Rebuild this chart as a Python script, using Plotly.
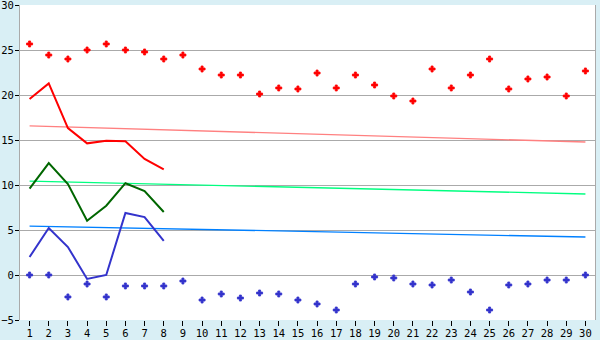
import plotly.graph_objects as go

days = list(range(1, 31))

red_points = [25.67, 24.44, 24.0, 25.0, 25.67, 25.0, 24.78, 24.0, 24.44, 22.89,
              22.22, 22.22, 20.11, 20.78, 20.67, 22.44, 20.78, 22.22, 21.11, 19.89,
              19.33, 22.89, 20.78, 22.22, 24.0, 20.67, 21.78, 22.0, 19.89, 22.67]
blue_points = [0.0, 0.0, -2.44, -1.0, -2.44, -1.22, -1.22, -1.22, -0.67, -2.78,
               -2.11, -2.56, -2.0, -2.11, -2.78, -3.22, -3.89, -1.0, -0.22, -0.33,
               -1.0, -1.11, -0.56, -1.89, -3.89, -1.11, -1.0, -0.56, -0.56, 0.0]

line_days = [1, 2, 3, 4, 5, 6, 7, 8]
red_line = [19.56, 21.29, 16.33, 14.63, 14.92, 14.85, 12.89, 11.74]
green_line = [9.59, 12.44, 10.11, 6.03, 7.7, 10.2, 9.33, 7.0]
blue_line = [2.0, 5.22, 3.11, -0.44, 0.0, 6.89, 6.44, 3.78]

trend_days = [1, 30]
red_trend = [16.56, 14.78]
green_trend = [10.44, 9.0]
blue_trend = [5.44, 4.22]

y_ticks = [-5, 0, 5, 10, 15, 20, 25, 30]

fig = go.Figure()
fig.add_trace(go.Scatter(x=trend_days, y=red_trend, mode="lines",
                         line=dict(color="#ff8080", width=1.3)))
fig.add_trace(go.Scatter(x=trend_days, y=green_trend, mode="lines",
                         line=dict(color="#00ff80", width=1.3)))
fig.add_trace(go.Scatter(x=trend_days, y=blue_trend, mode="lines",
                         line=dict(color="#0080ff", width=1.3)))
fig.add_trace(go.Scatter(x=line_days, y=red_line, mode="lines",
                         line=dict(color="#ff0000", width=2)))
fig.add_trace(go.Scatter(x=line_days, y=green_line, mode="lines",
                         line=dict(color="#006600", width=2)))
fig.add_trace(go.Scatter(x=line_days, y=blue_line, mode="lines",
                         line=dict(color="#3333cc", width=2)))
fig.add_trace(go.Scatter(x=days, y=red_points, mode="markers",
                         marker=dict(symbol="cross", size=5, color="#ff0000",
                                     line=dict(width=0.8, color="#ff0000"))))
fig.add_trace(go.Scatter(x=days, y=blue_points, mode="markers",
                         marker=dict(symbol="cross", size=5, color="#3333cc",
                                     line=dict(width=0.8, color="#3333cc"))))

fig.update_layout(
    width=600, height=340,
    margin=dict(l=20, r=5, t=5, b=20, autoexpand=False),
    paper_bgcolor="#d9eff5",
    plot_bgcolor="#ffffff",
    showlegend=False,
    font=dict(family="DejaVu Sans Mono", size=10.5, color="#000000"),
    xaxis=dict(range=[0.5, 30.5], tickvals=days, ticks="outside", ticklen=5,
               tickcolor="#000000", showgrid=False, zeroline=False,
               showline=False, fixedrange=True, automargin=False,
               ticklabeloverflow="allow", ticklabelstandoff=-2),
    yaxis=dict(range=[-5, 30], tickvals=y_ticks, ticks="outside", ticklen=4,
               tickcolor="#000000", showgrid=True, gridcolor="#aaaaaa",
               gridwidth=1, zeroline=False, showline=True, linecolor="#aaaaaa",
               mirror=True, linewidth=1, fixedrange=True, automargin=False,
               ticklabeloverflow="allow", ticklabelstandoff=-1),
)

fig.write_html("out.html")
